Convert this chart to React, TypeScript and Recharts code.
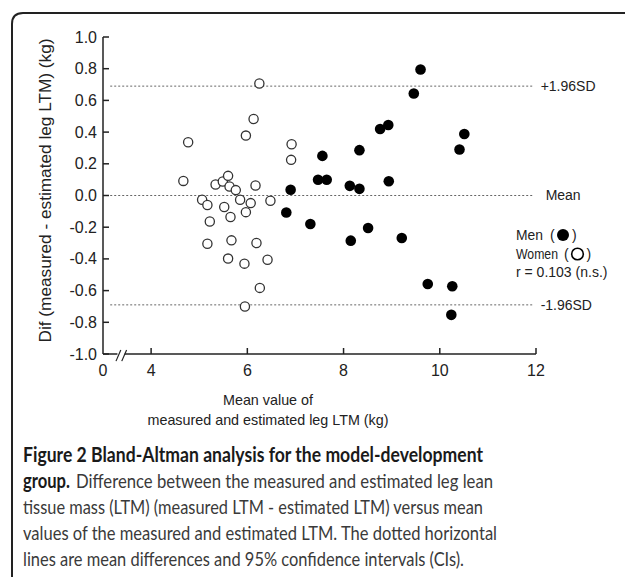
import { ScatterChart, Scatter, XAxis, YAxis, ReferenceLine } from "recharts"

// mean value of measured and estimated leg LTM (kg) / difference (kg)
const menMean = [9.6, 9.46, 8.76, 8.93, 10.51, 10.41, 8.33, 7.56, 7.47, 7.65, 8.13, 8.33, 8.94, 6.9, 6.81, 7.31, 8.51, 8.15, 9.21, 9.75, 10.26, 10.24]
const menDiff = [0.795, 0.644, 0.42, 0.445, 0.388, 0.29, 0.286, 0.25, 0.099, 0.099, 0.061, 0.042, 0.09, 0.036, -0.107, -0.18, -0.205, -0.285, -0.268, -0.558, -0.573, -0.753]

const womenMean = [6.25, 6.13, 5.97, 4.77, 6.92, 6.91, 4.67, 5.34, 5.49, 5.6, 5.63, 5.76, 6.17, 5.06, 5.17, 5.52, 5.85, 6.07, 6.48, 5.65, 5.97, 5.22, 5.17, 5.67, 6.19, 5.6, 5.94, 6.42, 6.26, 5.95]
const womenDiff = [0.707, 0.483, 0.378, 0.336, 0.323, 0.225, 0.092, 0.069, 0.088, 0.124, 0.057, 0.034, 0.063, -0.027, -0.06, -0.073, -0.027, -0.048, -0.033, -0.136, -0.105, -0.164, -0.304, -0.283, -0.3, -0.398, -0.43, -0.405, -0.583, -0.7]

const limitValues = [0.69, 0, -0.69]
const limitLabels = ["+1.96SD", "Mean", "-1.96SD"]

const xTicks = [3, 4, 6, 8, 10, 12]
const xTickLabels = ["0", "4", "6", "8", "10", "12"]
const yTicks = [-1, -0.8, -0.6, -0.4, -0.2, 0, 0.2, 0.4, 0.6, 0.8, 1]

const men = menMean.map((x, i) => ({ x, y: menDiff[i] }))
const women = womenMean.map((x, i) => ({ x, y: womenDiff[i] }))

const axisFont = "'Liberation Sans', Arial, sans-serif"
const captionFont = "Lato, 'Open Sans', sans-serif"
const ink = "#222"

const XTick = ({ x, y, payload, index }: any) => (
  <g>
    {index > 0 && <line x1={x} x2={x} y1={y} y2={y - 6} stroke={ink} strokeWidth={1.5} />}
    <text x={x} y={y + 22} textAnchor="middle" fontSize={16} fontFamily={axisFont} fill={ink}>
      {xTickLabels[xTicks.indexOf(payload.value)]}
    </text>
  </g>
)

const YTick = ({ x, y, payload }: any) => (
  <g>
    <line x1={x} x2={x + 6} y1={y} y2={y} stroke={ink} strokeWidth={1.5} />
    <text x={x - 6} y={y + 5.5} textAnchor="end" fontSize={16} fontFamily={axisFont} fill={ink}>
      {payload.value.toFixed(1)}
    </text>
  </g>
)

const MenDot = ({ cx, cy }: any) => <circle cx={cx} cy={cy} r={5.3} fill="#000" />
const WomenDot = ({ cx, cy }: any) => <circle cx={cx} cy={cy} r={4.6} fill="#fff" stroke="#333" strokeWidth={1.3} />

export default function App() {
  return (
    <div style={{ position: "absolute", left: 0, top: 0, width: 625, height: 577, background: "#fff", fontFamily: axisFont }}>
      <ScatterChart width={625} height={577} margin={{ top: 37, right: 89, left: 43, bottom: 203 }}>
        <XAxis
          type="number"
          dataKey="x"
          domain={[3, 12]}
          ticks={xTicks}
          allowDataOverflow
          axisLine={false}
          tickLine={false}
          tickSize={0}
          tickMargin={0}
          height={20}
          tick={<XTick />}
        />
        <YAxis
          type="number"
          dataKey="y"
          domain={[-1, 1]}
          ticks={yTicks}
          allowDataOverflow
          axisLine={{ stroke: ink, strokeWidth: 1.5 }}
          tickLine={false}
          tickSize={0}
          tickMargin={0}
          width={60}
          tick={<YTick />}
        />
        {/* broken x axis line */}
        <ReferenceLine segment={[{ x: 3, y: -1 }, { x: 3.3, y: -1 }]} stroke={ink} strokeWidth={1.5} ifOverflow="visible" />
        <ReferenceLine segment={[{ x: 3.45, y: -1 }, { x: 12, y: -1 }]} stroke={ink} strokeWidth={1.5} ifOverflow="visible" />
        <ReferenceLine segment={[{ x: 3.27, y: -1.045 }, { x: 3.37, y: -0.975 }]} stroke={ink} strokeWidth={1.2} ifOverflow="visible" />
        <ReferenceLine segment={[{ x: 3.39, y: -1.045 }, { x: 3.49, y: -0.975 }]} stroke={ink} strokeWidth={1.2} ifOverflow="visible" />
        {limitValues.map((v, i) => (
          <ReferenceLine
            key={limitLabels[i]}
            segment={[{ x: 3.15, y: v }, { x: 11.93, y: v }]}
            stroke="#666"
            strokeWidth={1}
            strokeDasharray="2 2"
            ifOverflow="visible"
            label={{ value: limitLabels[i], position: "right", offset: i === 1 ? 13 : 8, fontSize: 14, fill: ink, fontFamily: axisFont }}
          />
        ))}
        <Scatter data={women} shape={<WomenDot />} isAnimationActive={false} />
        <Scatter data={men} shape={<MenDot />} isAnimationActive={false} />
      </ScatterChart>
      <svg width={625} height={577} style={{ position: "absolute", left: 0, top: 0, pointerEvents: "none" }}>
        <path d="M12 577 L12 24 Q12 13 23 13 L625 13" fill="none" stroke="#222" strokeWidth={2} />
        <text transform="translate(51 190.5) rotate(-90)" textAnchor="middle" fontSize={16} fontFamily={axisFont} fill={ink} textLength={304} lengthAdjust="spacingAndGlyphs">
          Dif (measured - estimated leg LTM) (kg)
        </text>
        <text x={268} y={405} textAnchor="middle" fontSize={15} fontFamily={axisFont} fill={ink} textLength={90} lengthAdjust="spacingAndGlyphs">Mean value of</text>
        <text x={268} y={425} textAnchor="middle" fontSize={15} fontFamily={axisFont} fill={ink} textLength={241} lengthAdjust="spacingAndGlyphs">measured and estimated leg LTM (kg)</text>
        <g fontSize={14} fontFamily={axisFont} fill={ink}>
          <text x={516} y={240} textLength={27} lengthAdjust="spacingAndGlyphs">Men</text>
          <text x={550} y={240}>(</text>
          <circle cx={563} cy={235} r={6} fill="#000" />
          <text x={572} y={240}>)</text>
          <text x={516} y={259} textLength={42} lengthAdjust="spacingAndGlyphs">Women</text>
          <text x={564} y={259}>(</text>
          <circle cx={577.5} cy={254} r={5.8} fill="#fff" stroke="#000" strokeWidth={1.6} />
          <text x={586.5} y={259}>)</text>
          <text x={516} y={277}>r = 0.103 (n.s.)</text>
        </g>
        <g fontSize={20} fontFamily={captionFont} fill="#3a3a3a">
          <text x={23} y={462} textLength={460} lengthAdjust="spacingAndGlyphs" fontWeight="bold" fill="#1a1a1a">
            Figure 2 Bland-Altman analysis for the model-development
          </text>
          <text x={23} y={488} textLength={47} lengthAdjust="spacingAndGlyphs" fontWeight="bold" fill="#1a1a1a">group.</text>
          <text x={76} y={488} textLength={417} lengthAdjust="spacingAndGlyphs">
            Difference between the measured and estimated leg lean
          </text>
          <text x={23} y={514} textLength={460} lengthAdjust="spacingAndGlyphs">
            tissue mass (LTM) (measured LTM - estimated LTM) versus mean
          </text>
          <text x={23} y={540} textLength={474} lengthAdjust="spacingAndGlyphs">
            values of the measured and estimated LTM. The dotted horizontal
          </text>
          <text x={23} y={566} textLength={441} lengthAdjust="spacingAndGlyphs">
            lines are mean differences and 95% confidence intervals (CIs).
          </text>
        </g>
      </svg>
    </div>
  )
}
